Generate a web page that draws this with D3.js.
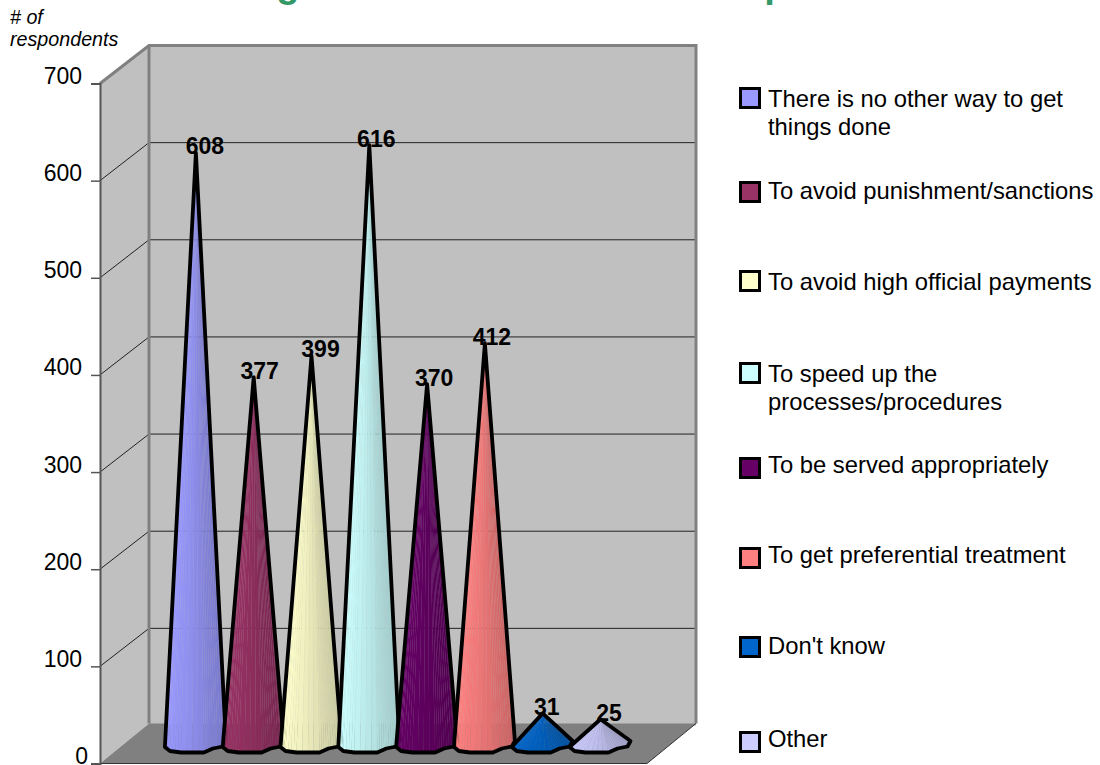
<!DOCTYPE html>
<html>
<head>
<meta charset="utf-8">
<script src="https://cdn.jsdelivr.net/npm/d3@7"></script>
<style>
  html, body { margin: 0; padding: 0; background: #fff; overflow: hidden; }
  svg { display: block; }
  text { font-family: "Liberation Sans", Arial, sans-serif; fill: #000; }
</style>
</head>
<body>
<div id="chart"></div>
<script>
var width = 1100, height = 765;

// values
var categories = [
  "There is no other way to get things done",
  "To avoid punishment/sanctions",
  "To avoid high official payments",
  "To speed up the processes/procedures",
  "To be served appropriately",
  "To get preferential treatment",
  "Don't know",
  "Other"
];
var values = [608, 377, 399, 616, 370, 412, 31, 25];
var colors = ["#9999FF", "#993366", "#FFFFCC", "#CCFFFF", "#660066", "#FF8080", "#0066CC", "#CCCCFF"];
var yTicks = [0, 100, 200, 300, 400, 500, 600, 700];
var titleText = "Figure 14: Reasons for corruption"; // top of the picture cuts it off
var axisTitle = ["# of", "respondents"];

// legend text wrapped the way the picture has it
var legendLines = [
  ["There is no other way to get", "things done"],
  ["To avoid punishment/sanctions"],
  ["To avoid high official payments"],
  ["To speed up the", "processes/procedures"],
  ["To be served appropriately"],
  ["To get preferential treatment"],
  ["Don't know"],
  ["Other"]
];
var legendTop = [87, 181, 270, 362, 457, 547, 636, 731];
var legendBaseline = [107, 199, 290, 382, 473, 563, 654, 747];

// value labels sit a little right of the tip, not by the same amount
var labelDx = [9, 6, 9, 7, 7, 7, 4, 8.5];

var svg = d3.select("#chart")
  .append("svg")
  .attr("width", width)
  .attr("height", height);

var depth = {x: 49, y: -38, floor: -40};
var plot = {left: 100, right: 647};

var yScale = d3.scaleLinear()
  .domain([0, 700])
  .range([763.5, 83.5]);

var xScale = d3.scaleBand()
  .domain(categories)
  .range([167, 629.4]);

var y0 = yScale(0);

// left wall
svg.append("polygon")
  .attr("points", [
    [plot.left, yScale(700)],
    [plot.left + depth.x, yScale(700) + depth.y],
    [plot.left + depth.x, y0 + depth.floor],
    [plot.left, y0]
  ].join(" "))
  .attr("fill", "#C0C0C0");

// back wall
svg.append("rect")
  .attr("x", plot.left + depth.x)
  .attr("y", yScale(700) + depth.y)
  .attr("width", plot.right - plot.left)
  .attr("height", y0 - yScale(700))
  .attr("fill", "#C0C0C0");

// floor
svg.append("polygon")
  .attr("points", [
    [plot.left, y0],
    [plot.left + depth.x, y0 + depth.floor],
    [plot.right + depth.x, y0 + depth.floor],
    [plot.right, y0]
  ].join(" "))
  .attr("fill", "#808080");

// grid on both walls
var grid = svg.append("g").attr("class", "grid");
yTicks.filter(function(d) { return d > 0 && d < 700; }).forEach(function(d) {
  grid.append("path")
    .attr("d", d3.line()([
      [plot.left, yScale(d)],
      [plot.left + depth.x, yScale(d) + depth.y],
      [plot.right + depth.x, yScale(d) + depth.y]
    ]))
    .attr("fill", "none")
    .attr("stroke", "#222")
    .attr("stroke-width", 1);
});

// wall borders
var frame = svg.append("g").attr("fill", "none").attr("stroke", "#808080").attr("stroke-width", 3);
frame.append("path")
  .attr("d", d3.line()([
    [plot.left, yScale(700)],
    [plot.left + depth.x, yScale(700) + depth.y],
    [plot.right + depth.x, yScale(700) + depth.y],
    [plot.right + depth.x, y0 + depth.floor]
  ]));
frame.append("path")
  .attr("d", d3.line()([
    [plot.left + depth.x, yScale(700) + depth.y],
    [plot.left + depth.x, y0 + depth.floor]
  ]));

svg.append("path")
  .attr("d", d3.line()([
    [plot.left, y0],
    [plot.right, y0],
    [plot.right + depth.x, y0 + depth.floor]
  ]))
  .attr("fill", "none")
  .attr("stroke", "#333")
  .attr("stroke-width", 1);

// Y axis
var yAxis = d3.axisLeft(yScale)
  .tickValues(yTicks)
  .tickSize(9)
  .tickPadding(9);

var yAxisG = svg.append("g")
  .attr("transform", "translate(" + plot.left + ",0)")
  .call(yAxis);
yAxisG.select(".domain").attr("stroke", "#555").attr("stroke-width", 2);
yAxisG.selectAll(".tick line").attr("stroke", "#555").attr("stroke-width", 1.5);
yAxisG.selectAll(".tick text")
  .attr("font-size", "23px")
  .attr("dy", 0)
  .attr("x", function(d) { return d === 0 ? -12 : -18; })
  .style("font-family", '"Liberation Sans", Arial, sans-serif');

// cone base outline, relative to the cone centre and the front floor line
var baseShape = [[-31, -16.5], [-26, -12.5], [-15, -11], [8, -11], [17, -15], [27, -17], [30, -22.5]];
var coneDrop = 20; // cones stand half way back on the floor
var facetsPerEdge = 4;

var cones = svg.selectAll(".cone")
  .data(categories)
  .enter()
  .append("g")
  .attr("class", "cone");

cones.each(function(d, i) {
  var g = d3.select(this);
  var cx = xScale(d) + xScale.bandwidth() / 2;
  var apex = [cx, yScale(values[i]) - coneDrop];
  var base = baseShape.map(function(p) { return [cx + p[0], y0 + p[1]]; });

  // split the base into small steps so the cone shades over its width
  var steps = [];
  d3.pairs(base).forEach(function(pair) {
    d3.range(facetsPerEdge).forEach(function(k) {
      steps.push(d3.interpolate(pair[0], pair[1])(k / facetsPerEdge));
    });
  });
  steps.push(base[base.length - 1]);

  var shade = d3.interpolateRgb(colors[i], d3.rgb(colors[i]).darker(0.65));
  d3.pairs(steps).forEach(function(pair, k) {
    var t = (pair[0][0] - base[0][0]) / (base[base.length - 1][0] - base[0][0]);
    g.append("polygon")
      .attr("points", [apex, pair[0], pair[1]].join(" "))
      .attr("fill", shade(t))
      .attr("stroke", shade(t))
      .attr("stroke-width", 0.2);
  });

  g.append("polygon")
    .attr("points", [apex].concat(base).join(" "))
    .attr("fill", "none")
    .attr("stroke", "#000")
    .attr("stroke-width", 3.8)
    .attr("stroke-linejoin", "round");
});

// value labels
svg.selectAll(".value")
  .data(categories)
  .enter()
  .append("text")
  .attr("class", "value")
  .attr("x", function(d, i) { return xScale(d) + xScale.bandwidth() / 2 + labelDx[i]; })
  .attr("y", function(d, i) { return yScale(values[i]) - coneDrop + 1.5; })
  .attr("text-anchor", "middle")
  .attr("font-size", "23px")
  .attr("font-weight", "bold")
  .text(function(d, i) { return values[i]; });

// title, mostly above the top edge
svg.append("text")
  .attr("x", 550)
  .attr("y", -3)
  .attr("text-anchor", "middle")
  .attr("font-size", "38.2px")
  .attr("font-weight", "bold")
  .style("fill", "#339966")
  .text(titleText);

// axis title
svg.append("g").selectAll("text")
  .data(axisTitle)
  .enter()
  .append("text")
  .attr("x", 10)
  .attr("y", function(d, i) { return 24 + i * 22; })
  .attr("font-size", "19.7px")
  .attr("font-style", "italic")
  .text(function(d) { return d; });

// legend
var legend = svg.selectAll(".legend")
  .data(categories)
  .enter()
  .append("g")
  .attr("class", "legend");

legend.append("rect")
  .attr("x", 740.5)
  .attr("y", function(d, i) { return legendTop[i] + 1.5; })
  .attr("width", 19)
  .attr("height", 19)
  .attr("fill", function(d, i) { return colors[i]; })
  .attr("stroke", "#000")
  .attr("stroke-width", 3);

legend.each(function(d, i) {
  d3.select(this).selectAll("text")
    .data(legendLines[i])
    .enter()
    .append("text")
    .attr("x", 768)
    .attr("y", function(line, k) { return legendBaseline[i] + k * 28; })
    .attr("font-size", "23.8px")
    .text(function(line) { return line; });
});
</script>
</body>
</html>
